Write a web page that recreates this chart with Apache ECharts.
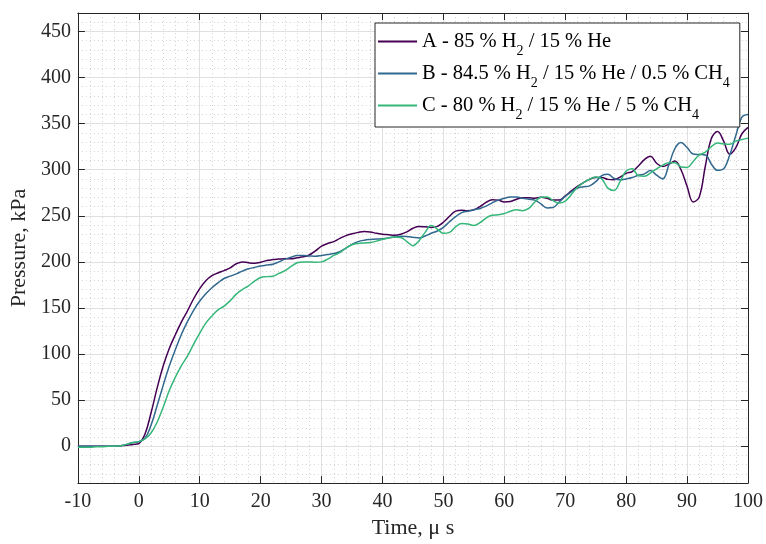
<!DOCTYPE html>
<html><head><meta charset="utf-8">
<script src="https://cdn.jsdelivr.net/npm/echarts@6/dist/echarts.min.js"></script>
<style>html,body{margin:0;padding:0;background:#fff}#c{width:766px;height:544px}</style>
</head><body><div id="c"></div>
<script>
// Time axis, microseconds
const time = [-10,-9,-8,-7,-6,-5,-4,-3,-2,-1,
  0,1,2,3,4,5,6,7,8,9,
  10,11,12,13,14,15,16,17,18,19,
  20,21,22,23,24,25,26,27,28,29,
  30,31,32,33,34,35,36,37,38,39,
  40,41,42,43,44,45,46,47,48,49,
  50,51,52,53,54,55,56,57,58,59,
  60,61,62,63,64,65,66,67,68,69,
  70,71,72,73,74,75,76,77,78,79,
  80,81,82,83,84,85,86,87,88,89,
  90,91,92,93,94,95,96,97,98,99,
  100];
// Pressure, kPa
const seriesA = [0,0,0,0,0,0,0,0.5,1,2,
  3,13,36,63,87,106,121,135,147,160,
  171,179.5,185,188,190.5,193.5,198,200,199,198.5,
  199.5,201.5,202.5,203,203.5,203.5,204.5,205.5,207.5,212,
  217,220,222,225.5,228.5,230.5,232,233,232.5,231,
  230,229.5,229,230,232.5,236.5,238.5,238,237.4,238.5,
  243,249.5,255,256,255.5,256.5,260,264.5,267.5,267,
  265,265.5,268,269.5,269.5,269,270,269,267,267,
  271.5,277,282,286,289.5,291.5,291.5,289.5,289,292,
  296,298,304,311,314.5,307,303.5,306,309.5,300,
  282,265,270.5,304,334,341.4,331,317,324,339,
  346];
const seriesB = [0,0,0,0,0,0,0,0.5,2,4,
  5,8.6,22.7,44,66,87,105,121.5,135.5,147.5,
  157.5,165.5,172,177.3,182,184.5,187,190,192.5,194,
  195.5,196.5,197.5,200,203,205,207,207,206.5,206,
  207,208,209,211,215,219,222,223.5,224.3,224.8,
  225,226,227,227.7,227.5,226.8,226,228,231,233.5,
  237.5,243.5,249,253.5,255,256.5,258,260.5,264,267,
  269,270.3,270.5,269,268,267,263,258.5,259,265,
  271,276,280,281.5,282.5,287,293.5,295,290.5,289,
  290,291.5,294,295.5,299,294,290,305,323,329.5,
  324,317,316.5,316,306,299.3,301,316,337,357,
  360];
const seriesC = [-1,-1,-1,-0.5,-0.5,0,0,0.5,2,4,
  5,8,14.4,26,42.4,60.4,75,87.4,98,110.8,
  122.7,133.5,141.4,148,152,158,165,170,174,179,
  183,184,184.5,187.5,190.5,195,199,200,200,199.5,
  200,203,207,210,215,218.5,220,220.5,221,222.5,
  224.5,226,227,226.5,222,217.5,223,232,239.5,235.5,
  231,232,238,241.5,241,239.5,242.5,247.5,250.5,251,
  252.5,255,256.5,255.5,258,265,270,270.5,266.5,263.8,
  266,273,281,286,289.6,292,290,280,277.5,287,
  298.5,301,293.5,293,296.5,301,305,307.5,307.5,303,
  302.5,309,316,319,325,329,328,327.5,331,332.7,
  334];
const seriesNames = ['A', 'B', 'C'];
const legendLabels = [
  'A - 85 % H{s|2} / 15 % He',
  'B - 84.5 % H{s|2} / 15 % He / 0.5 % CH{s|4}',
  'C - 80 % H{s|2} / 15 % He / 5 % CH{s|4}'
];
const yTicks = [0, 50, 100, 150, 200, 250, 300, 350, 400, 450];
const yMin = -40, yMax = 470;
const xMin = -10, xMax = 100, xStep = 10;
const xLabel = 'Time, μ s';
const yLabel = 'Pressure, kPa';

const colors = ['#440154', '#31688e', '#35b779'];
const FONT = 'Liberation Serif';
const AX = '#262626';
const MINOR = '#d2d2d2';
const yMinor = [];
for (let v = yMin; v <= yMax; v += 10) { if (v % 50 !== 0) yMinor.push(v); }

const values = [seriesA, seriesB, seriesC];
const chart = echarts.init(document.getElementById('c'), null, {renderer: 'canvas'});
const boxAxisLine = {show: true, onZero: false, lineStyle: {color: AX, width: 1}};
const inTick = {show: true, inside: true, length: 7, lineStyle: {color: AX, width: 1}};
chart.setOption({
  animation: false,
  backgroundColor: '#ffffff',
  grid: {left: 73, top: 13, right: 16, bottom: 57, containLabel: false},
  xAxis: [
    {type: 'value', min: xMin, max: xMax, interval: xStep, position: 'bottom',
     name: xLabel, nameLocation: 'middle', nameGap: 33,
     nameTextStyle: {fontFamily: FONT, fontSize: 22, color: AX},
     axisLine: boxAxisLine, axisTick: inTick,
     axisLabel: {fontFamily: FONT, fontSize: 20, color: AX, margin: 9},
     splitLine: {show: true, lineStyle: {color: '#e0e0e0', width: 1}},
     minorTick: {show: false, splitNumber: 5},
     minorSplitLine: {show: true, lineStyle: {color: MINOR, width: 1, type: [1, 3]}}
    },
    {type: 'value', min: xMin, max: xMax, interval: xStep, position: 'top',
     axisLine: boxAxisLine, axisTick: inTick, axisLabel: {show: false},
     splitLine: {show: false}}
  ],
  yAxis: [
    {type: 'value', min: yMin, max: yMax, position: 'left',
     name: yLabel, nameLocation: 'middle', nameGap: 41,
     nameTextStyle: {fontFamily: FONT, fontSize: 22, color: AX},
     axisLine: boxAxisLine,
     axisTick: Object.assign({customValues: yTicks}, inTick),
     axisLabel: {customValues: yTicks, fontFamily: FONT, fontSize: 20, color: AX, margin: 7},
     splitLine: {show: true, lineStyle: {color: '#e0e0e0', width: 1}}
    },
    {type: 'value', min: yMin, max: yMax, position: 'right',
     axisLine: boxAxisLine,
     axisTick: Object.assign({customValues: yTicks}, inTick),
     axisLabel: {show: false}, splitLine: {show: false}},
    {type: 'value', min: yMin, max: yMax, position: 'left',
     axisLine: {show: false}, axisTick: {show: false, customValues: yMinor},
     axisLabel: {show: false},
     splitLine: {show: true, lineStyle: {color: MINOR, width: 1, type: [1, 3]}}}
  ],
  legend: {
    orient: 'vertical', left: 375, top: 23,
    padding: [8, 10, 5, 3], itemGap: 5, itemWidth: 39, itemHeight: 2, itemTextGap: 4,
    icon: 'rect',
    backgroundColor: '#ffffff', borderColor: AX, borderWidth: 1, borderRadius: 0,
    data: seriesNames,
    formatter: function (name) { return legendLabels[seriesNames.indexOf(name)]; },
    textStyle: {fontFamily: FONT, fontSize: 20.5, color: '#000',
      rich: {s: {fontFamily: FONT, fontSize: 14, color: '#000', padding: [19, 0, 0, 0]}}}
  },
  series: seriesNames.map(function (n, i) {
    return {
      name: n, type: 'line', symbol: 'none', smooth: 0.4,
      xAxisIndex: 0, yAxisIndex: 0,
      lineStyle: {width: 1.5, color: colors[i]},
      itemStyle: {color: colors[i]},
      data: time.map(function (t, j) { return [t, values[i][j]]; })
    };
  })
});
</script></body></html>
